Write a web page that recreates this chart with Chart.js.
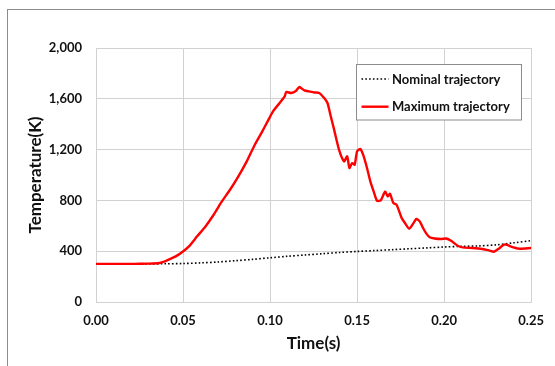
<!DOCTYPE html>
<html>
<head>
<meta charset="utf-8">
<script src="https://cdn.jsdelivr.net/npm/chart.js@4"></script>
<style>
  html, body { margin: 0; padding: 0; background: #fff; }
  canvas { display: block; }
</style>
</head>
<body>
<canvas id="chart" width="555" height="366"></canvas>
<script>
// axis ticks
const xTicks = [0, 0.05, 0.10, 0.15, 0.20, 0.25];
const yTicks = [0, 400, 800, 1200, 1600, 2000];

// nominal trajectory (dotted)
const nominalTime = [0, 0.03, 0.04, 0.05, 0.06, 0.07, 0.08, 0.09, 0.10, 0.11, 0.12, 0.13,
  0.14, 0.15, 0.16, 0.17, 0.18, 0.19, 0.20, 0.21, 0.22, 0.23, 0.24, 0.25];
const nominalTemp = [300, 300, 301, 303, 308, 315, 325, 336, 348, 360, 370, 380,
  390, 398, 405, 412, 419, 426, 433, 438, 442, 450, 466, 483];

// maximum trajectory (red)
const maxTime = [0, 0.01, 0.02, 0.025, 0.03, 0.0364, 0.04, 0.042, 0.0458, 0.0496, 0.0534,
  0.0581, 0.0629, 0.0676, 0.0723, 0.077, 0.0818, 0.0866, 0.0913, 0.095, 0.0989, 0.1017,
  0.1055, 0.1084, 0.1093, 0.1121, 0.115, 0.1168, 0.1197, 0.1225, 0.1254, 0.1282, 0.1311,
  0.133, 0.1349, 0.1368, 0.1396, 0.1425, 0.1443, 0.1456, 0.1472, 0.1486, 0.15, 0.1519,
  0.1538, 0.1557, 0.1576, 0.1595, 0.1614, 0.1636, 0.1661, 0.1676, 0.1689, 0.1708, 0.1727,
  0.1756, 0.1775, 0.18, 0.1822, 0.1841, 0.186, 0.1879, 0.1898, 0.1917, 0.1945, 0.1983,
  0.2011, 0.204, 0.2078, 0.2106, 0.2163, 0.222, 0.2258, 0.2286, 0.2314, 0.2343, 0.2362,
  0.2381, 0.2428, 0.25];
const maxTemp = [300, 300, 300, 301, 302, 307, 322, 335, 359, 394, 438,
  517, 595, 687, 792, 884, 989, 1107, 1240, 1330, 1430, 1501,
  1567, 1619, 1653, 1646, 1664, 1693, 1666, 1658, 1650, 1646, 1606,
  1567, 1461, 1357, 1199, 1107, 1147, 1055, 1094, 1081, 1186, 1205,
  1147, 1055, 950, 871, 798, 800, 869, 832, 853, 780, 766,
  661, 622, 577, 617, 654, 635, 583, 538, 510, 500, 496,
  500, 483, 443, 430, 425, 417, 406, 396, 420, 451, 450,
  438, 420, 425];

const FONT = 'Lato, "Open Sans", sans-serif';
const GRID = '#d2d2d2';

const toPoints = (xs, ys) => xs.map((x, i) => ({ x: x, y: ys[i] }));

// outer frame of the figure
const framePlugin = {
  id: 'frame',
  beforeDraw(chart) {
    const ctx = chart.ctx;
    ctx.save();
    ctx.strokeStyle = '#8c8c8c';
    ctx.lineWidth = 1;
    ctx.strokeRect(7.5, 9.5, 600, 400);
    ctx.restore();
  }
};

// boxed legend inside the plot, top right
const boxLegend = {
  id: 'boxLegend',
  afterDraw(chart) {
    const ctx = chart.ctx;
    const x0 = 356.5, y0 = 64.5, w = 165, h = 55.5;
    ctx.save();
    ctx.fillStyle = '#fff';
    ctx.fillRect(x0, y0, w, h);
    ctx.strokeStyle = '#8c8c8c';
    ctx.lineWidth = 1;
    ctx.strokeRect(x0, y0, w, h);
    ctx.font = 'bold 13px ' + FONT;
    ctx.textBaseline = 'middle';
    ctx.fillStyle = '#111';
    chart.data.datasets.forEach((ds, i) => {
      const y = 79 + i * 27.7;
      ctx.beginPath();
      ctx.strokeStyle = ds.borderColor;
      ctx.lineWidth = ds.borderWidth;
      ctx.setLineDash(ds.borderDash || []);
      ctx.moveTo(361.5, y);
      ctx.lineTo(388.5, y);
      ctx.stroke();
      ctx.setLineDash([]);
      ctx.fillText(ds.label, 392, y + 0.5);
    });
    ctx.restore();
  }
};

new Chart(document.getElementById('chart'), {
  type: 'line',
  data: {
    datasets: [
      {
        label: 'Nominal trajectory',
        data: toPoints(nominalTime, nominalTemp),
        borderColor: '#000000',
        borderWidth: 1.6,
        borderDash: [1.6, 2.2],
        pointRadius: 0,
        tension: 0.3,
        order: 2
      },
      {
        label: 'Maximum trajectory',
        data: toPoints(maxTime, maxTemp),
        borderColor: '#ff0000',
        borderWidth: 2.4,
        pointRadius: 0,
        tension: 0.2,
        order: 1
      }
    ]
  },
  options: {
    responsive: false,
    animation: false,
    layout: { padding: { left: 0, top: 48, right: 19, bottom: 0 } },
    plugins: {
      legend: { display: false },
      tooltip: { enabled: false }
    },
    scales: {
      x: {
        type: 'linear',
        min: 0,
        max: 0.25,
        afterBuildTicks: (scale) => { scale.ticks = xTicks.map(v => ({ value: v })); },
        afterFit: (scale) => { scale.height = 64; },
        grid: { color: GRID, drawTicks: false },
        border: { color: GRID },
        ticks: {
          padding: 11,
          color: '#111',
          font: { family: FONT, size: 13, weight: 'bold' },
          callback: (v) => Number(v).toFixed(2)
        },
        title: {
          display: true,
          text: 'Time(s)',
          color: '#111',
          padding: { top: 0, bottom: 12 },
          font: { family: FONT, size: 17, weight: 'bold' }
        }
      },
      y: {
        min: 0,
        max: 2000,
        afterBuildTicks: (scale) => { scale.ticks = yTicks.map(v => ({ value: v })); },
        afterFit: (scale) => { scale.width = 96; },
        grid: { color: GRID, drawTicks: false },
        border: { color: GRID },
        ticks: {
          padding: 14,
          color: '#111',
          font: { family: FONT, size: 13, weight: 'bold' },
          callback: (v) => Number(v).toLocaleString('en-US')
        },
        title: {
          display: true,
          text: 'Temperature(K)',
          color: '#111',
          padding: { top: 25, bottom: 0 },
          font: { family: FONT, size: 17, weight: 'bold' }
        }
      }
    }
  },
  plugins: [framePlugin, boxLegend]
});
</script>
</body>
</html>
